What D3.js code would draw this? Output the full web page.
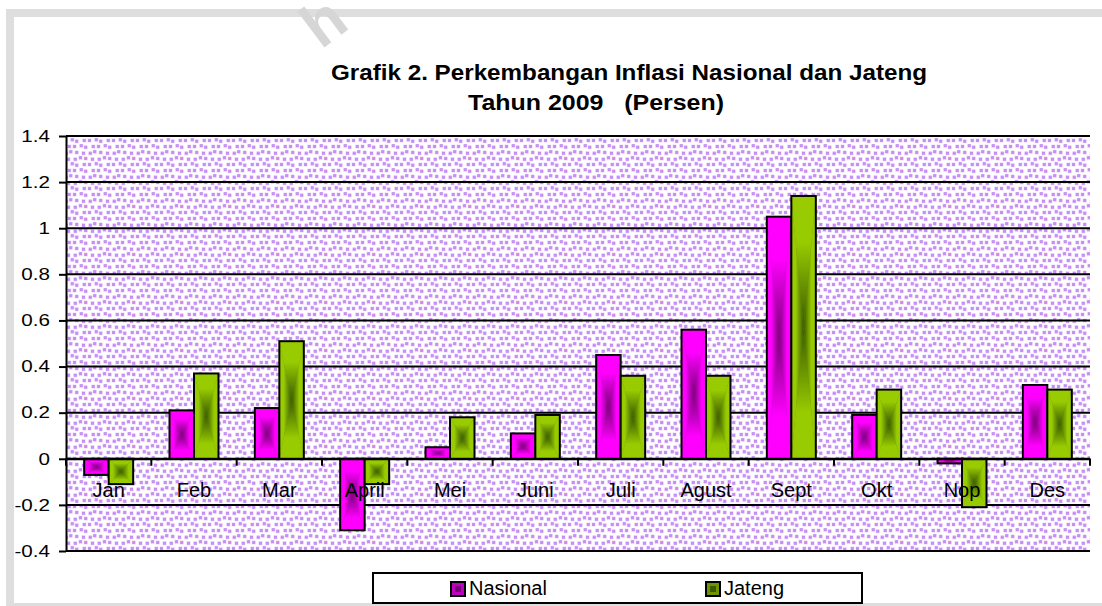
<!DOCTYPE html>
<html>
<head>
<meta charset="utf-8">
<script src="https://cdn.jsdelivr.net/npm/d3@7"></script>
<style>
  html, body { margin: 0; padding: 0; background: #fff; }
  svg { display: block; font-family: "Liberation Sans", Arial, sans-serif; }
</style>
</head>
<body>
<svg id="chart" width="1102" height="606"></svg>
<script>
const months = ["Jan","Feb","Mar","April","Mei","Juni","Juli","Agust","Sept","Okt","Nop","Des"];
const nasional = [-0.07,0.21,0.22,-0.31,0.05,0.11,0.45,0.56,1.05,0.19,-0.02,0.32];
const jateng = [-0.11,0.37,0.51,-0.11,0.18,0.19,0.36,0.36,1.14,0.30,-0.21,0.30];
const seriesNames = ["Nasional","Jateng"];
const yTicks = [-0.4,-0.2,0,0.2,0.4,0.6,0.8,1,1.2,1.4];
const yTickLabels = ["-0.4","-0.2","0","0.2","0.4","0.6","0.8","1","1.2","1.4"];
const titleLines = ["Grafik 2. Perkembangan Inflasi Nasional dan Jateng", "Tahun 2009   (Persen)"];

const seriesValues = [nasional, jateng];
const colors = [
  {edge: "#ff00ff", center: "#7a0078", mid: "#c000c0"},
  {edge: "#99cc00", center: "#3a5a00", mid: "#6f9400"}
];

const svg = d3.select("#chart");
const defs = svg.append("defs");

// background dot texture (fixed jitter table, 24x24 tile)
const jitter = [
  [0,0],[1,-1],[-1,1],[1,0],
  [-1,0],[0,1],[1,1],[-1,-1],
  [1,1],[0,-1],[-1,0],[0,1],
  [-1,1],[1,0],[0,0],[1,-1]
];
const pat = defs.append("pattern").attr("id","dots").attr("patternUnits","userSpaceOnUse")
  .attr("width",24).attr("height",24);
pat.append("rect").attr("width",24).attr("height",24).attr("fill","#ffffff");
for (let r = 0; r < 4; r++) {
  for (let c = 0; c < 4; c++) {
    const j = jitter[r*4+c];
    const px = c*6 + (r%2)*3 + 1 + j[0]*0.8;
    const py = r*6 + 1 + j[1]*0.8;
    [[0,0],[-24,0],[0,-24],[-24,-24]].forEach(([ox,oy])=>{
      pat.append("rect").attr("x",px+ox-0.5).attr("y",py+oy-0.5).attr("width",4).attr("height",4).attr("fill","#ecdcfd");
    });
  }
}
for (let r = 0; r < 4; r++) {
  for (let c = 0; c < 4; c++) {
    const j = jitter[r*4+c];
    const px = c*6 + (r%2)*3 + 1 + j[0]*0.8;
    const py = r*6 + 1 + j[1]*0.8;
    [[0,0],[-24,0],[0,-24],[-24,-24]].forEach(([ox,oy])=>{
      pat.append("rect").attr("x",px+ox).attr("y",py+oy).attr("width",3).attr("height",3).attr("fill","#c78ef6");
    });
  }
}

// gradients (rectangular "from center" via 4 triangles)
const dirs = {
  top:    {x1:0,y1:0,x2:0,y2:1},
  bottom: {x1:0,y1:1,x2:0,y2:0},
  left:   {x1:0,y1:0,x2:1,y2:0},
  right:  {x1:1,y1:0,x2:0,y2:0}
};
colors.forEach((c,si)=>{
  Object.entries(dirs).forEach(([k,d])=>{
    const g = defs.append("linearGradient").attr("id",`g${si}${k}`)
      .attr("x1",d.x1).attr("y1",d.y1).attr("x2",d.x2).attr("y2",d.y2);
    g.append("stop").attr("offset",0).attr("stop-color",c.edge);
    g.append("stop").attr("offset",0.35).attr("stop-color",c.edge);
    g.append("stop").attr("offset",1).attr("stop-color",c.center);
  });
});

// frame
svg.append("rect").attr("x",6).attr("y",9).attr("width",1096).attr("height",8).attr("fill","#dedede");
svg.append("rect").attr("x",6).attr("y",9).attr("width",8).attr("height",597).attr("fill","#dedede");
svg.append("rect").attr("x",6).attr("y",603).attr("width",1096).attr("height",3).attr("fill","#dedede");

// watermark fragment
svg.append("text").attr("transform","translate(321,50) rotate(-37)")
  .attr("font-size",62).attr("font-weight","bold").attr("fill","#d6d6d6").text("h");

// scales
const pLeft = 66, pRight = 1090, pTop = 136, pBottom = 551;
const x = d3.scaleBand().domain(months).range([pLeft,pRight]).paddingInner(0).paddingOuter(0);
const bw = x.bandwidth();
const x1 = d3.scaleBand().domain(seriesNames).range([bw*0.213, bw*0.787]);
const y = d3.scaleLinear().domain([-0.4,1.4]).range([pBottom,pTop]);

// plot background
svg.append("rect").attr("x",pLeft).attr("y",pTop).attr("width",pRight-pLeft).attr("height",pBottom-pTop).attr("fill","url(#dots)");

// gridlines
svg.append("g").selectAll("line").data(yTicks).join("line")
  .attr("x1",pLeft).attr("x2",pRight).attr("y1",d=>y(d)).attr("y2",d=>y(d))
  .attr("stroke","#000").attr("stroke-width",2);

// y axis
const yAxis = d3.axisLeft(y).tickValues(yTicks).tickSize(7).tickSizeOuter(0)
  .tickFormat((d,i)=>yTickLabels[i]).tickPadding(9);
const gy = svg.append("g").attr("transform",`translate(${pLeft},0)`).call(yAxis);
gy.select(".domain").attr("stroke","#000").attr("stroke-width",2);
gy.selectAll(".tick line").attr("stroke","#000").attr("stroke-width",2);
gy.selectAll(".tick text").attr("font-size",16.5).attr("fill","#000")
  .attr("font-family",'"Liberation Sans", Arial, sans-serif')
  .each(function(){
    const t = d3.select(this);
    const xx = +t.attr("x");
    t.attr("x",null).attr("transform",`translate(${xx},0) scale(1.25,1)`);
  });

// bars
function drawBar(g, x0, w, v, si){
  const yt = y(Math.max(0,v)), yb = y(Math.min(0,v));
  const xr = x0 + w, cx = x0 + w/2, cy = (yt+yb)/2;
  g.append("rect").attr("x",x0).attr("y",yt).attr("width",w).attr("height",yb-yt).attr("fill",colors[si].mid);
  const tri = [
    ["top",    [[x0,yt],[xr,yt],[cx,cy]]],
    ["bottom", [[x0,yb],[xr,yb],[cx,cy]]],
    ["left",   [[x0,yt],[x0,yb],[cx,cy]]],
    ["right",  [[xr,yt],[xr,yb],[cx,cy]]]
  ];
  tri.forEach(([k,pts])=>{
    g.append("polygon").attr("points",pts.map(p=>p.join(",")).join(" ")).attr("fill",`url(#g${si}${k})`);
  });
  g.append("rect").attr("x",x0).attr("y",yt).attr("width",w).attr("height",yb-yt)
    .attr("fill","none").attr("stroke","#000").attr("stroke-width",2);
}
const barsG = svg.append("g");
months.forEach((m,i)=>{
  seriesNames.forEach((s,si)=>{
    drawBar(barsG, x(m)+x1(s), x1.bandwidth(), seriesValues[si][i], si);
  });
});

// x axis at zero
const xAxis = d3.axisBottom(x).tickSize(0).tickSizeOuter(0).tickPadding(0);
const gx = svg.append("g").attr("transform",`translate(0,${y(0)})`).call(xAxis);
gx.select(".domain").attr("stroke","#000").attr("stroke-width",2);
gx.selectAll(".tick text").attr("font-size",20).attr("fill","#000").attr("y",38).attr("dy",null)
  .attr("font-family",'"Liberation Sans", Arial, sans-serif');
// category separator ticks
const bounds = months.map(m=>x(m)).concat([pRight]);
svg.append("g").selectAll("line").data(bounds).join("line")
  .attr("x1",d=>d).attr("x2",d=>d).attr("y1",y(0)).attr("y2",y(0)+7)
  .attr("stroke","#000").attr("stroke-width",2);

// title
svg.append("text").attr("x",331).attr("y",80)
  .attr("font-size",22).attr("font-weight","bold")
  .attr("textLength",596).attr("lengthAdjust","spacingAndGlyphs").text(titleLines[0]);
svg.append("text").attr("x",468).attr("y",110)
  .attr("font-size",22).attr("font-weight","bold").style("white-space","pre")
  .attr("textLength",256).attr("lengthAdjust","spacingAndGlyphs").text(titleLines[1]);

// legend
const lg = svg.append("g");
lg.append("rect").attr("x",373).attr("y",573).attr("width",489).attr("height",30)
  .attr("fill","#fff").attr("stroke","#000").attr("stroke-width",2);
const legendX = [451, 706];
function drawLegendSym(x0, y0, s, si){
  lg.append("rect").attr("x",x0).attr("y",y0).attr("width",s).attr("height",s)
    .attr("fill",colors[si].mid).attr("stroke","#000").attr("stroke-width",2);
  lg.append("rect").attr("x",x0+4).attr("y",y0+4).attr("width",s-8).attr("height",s-8)
    .attr("fill",colors[si].center);
}
seriesNames.forEach((s,si)=>{
  const gx0 = legendX[si];
  drawLegendSym(gx0, 582, 14, si);
  lg.append("text").attr("x",gx0+18).attr("y",595).attr("font-size",20).text(s);
});
</script>
</body>
</html>
